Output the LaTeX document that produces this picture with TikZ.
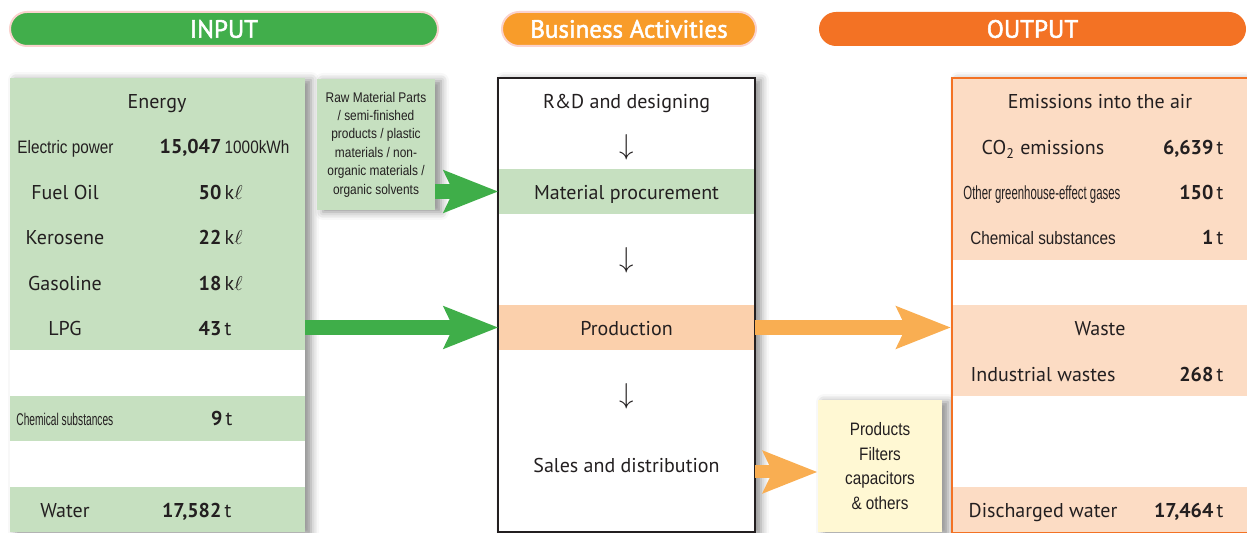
\documentclass[tikz,border=0pt]{standalone}
\usepackage{fontspec}
\setmainfont{PT Sans}
\newfontfamily\pillfont[FakeBold=2]{PT Sans}
\newfontfamily\condfont[FakeStretch=0.85]{Liberation Sans}
\newfontfamily\slimfont[FakeStretch=0.6]{Liberation Sans}
\usetikzlibrary{arrows.meta,positioning,shadows.blur}
\definecolor{ingreen}{RGB}{65,174,75}
\definecolor{bizorange}{RGB}{248,156,42}
\definecolor{outorange}{RGB}{243,114,36}
\definecolor{lightgreen}{RGB}{198,224,192}
\definecolor{peach}{RGB}{252,220,196}
\definecolor{prodpeach}{RGB}{251,208,172}
\definecolor{arrorange}{RGB}{249,174,82}
\definecolor{arrgreen}{RGB}{63,174,73}
\definecolor{cream}{RGB}{255,248,211}
\definecolor{pillrim}{RGB}{250,210,205}
\definecolor{ink}{RGB}{35,31,32}
\newcommand\amount[2]{\llap{\textbf{#1}}\,#2}

\begin{document}
\begin{tikzpicture}
  [x=0.5pt, y=-0.5pt,
   every node/.style={text=ink, font=\fontsize{10}{12}\selectfont},
   pill/.style={rounded corners=8.5pt, minimum height=17pt, inner sep=0pt,
                text=white, font=\pillfont\fontsize{12.5}{14}\selectfont},
   panel/.style={fill=white, inner sep=0pt,
                 blur shadow={shadow xshift=3pt, shadow yshift=-1pt, shadow blur radius=4pt, shadow opacity=45}},
   row/.style={inner sep=0pt},
   txt/.style={inner sep=0pt, text height=10pt, text depth=2pt},
   flow/.style={line width=7.5pt, -{Stealth[length=27pt, width=20.5pt, inset=4.5pt]}}]
  \useasboundingbox (0,0) rectangle (1247,533);

  % headings
  \node[pill, fill=ingreen, draw=pillrim, line width=1pt, minimum width=214pt] (input) at (224,29) {INPUT};
  \node[pill, fill=bizorange, draw=pillrim, line width=1pt, minimum width=127pt] (biztitle) at (629,29) {Business Activities};
  \node[pill, fill=outorange, minimum width=213.5pt] (output) at (1032.5,29) {OUTPUT};

  % input side
  \node[panel, minimum width=147.5pt, minimum height=227pt] (inpanel) at (157.5,305) {};
  \node[row, fill=lightgreen, minimum width=147.5pt, minimum height=136pt] (energy) at (157.5,214) {};
  \node[row, fill=lightgreen, minimum width=147.5pt, minimum height=22.5pt] (chemin) at (157.5,418.5) {};
  \node[row, fill=lightgreen, minimum width=147.5pt, minimum height=22.5pt] (water) at (157.5,509.5) {};
  \node[txt] (energylab) at (157,101) {Energy};
  \node[txt, anchor=west, font=\condfont\fontsize{9}{11}\selectfont] (eleclab) at (17,146) {Electric power};
  \node[txt, anchor=west] (elecval) at (221,146) {\amount{15,047}{{\condfont\fontsize{9}{11}\selectfont 1000kWh}}};
  \foreach \y/\lab/\num/\unit in {192/Fuel Oil/50/k$\ell$, 237/Kerosene/22/k$\ell$,
      283/Gasoline/18/k$\ell$, 328/LPG/43/t, 509/Water/{17,582}/t} {
    \node[txt] (lab\y) at (65,\y) {\lab};
    \node[txt, anchor=west] (val\y) at (221,\y) {\amount{\num}{\unit}};
  };
  \node[txt, anchor=west, font=\slimfont\fontsize{8.5}{10}\selectfont] (chemlab) at (16,418) {Chemical substances};
  \node[txt, anchor=west] (chemval) at (222,418) {\amount{9}{t}};

  % raw materials
  \node[panel, fill=lightgreen, minimum width=59pt, minimum height=65.5pt, align=center,
        font=\condfont\fontsize{7}{9.2}\selectfont] (raw) at (376,144.5)
        {Raw Material Parts\\/ semi-finished\\products / plastic\\materials / non-\\organic materials /\\organic solvents};

  % business activities
  \node[panel, draw=ink, line width=0.75pt, minimum width=128.5pt, minimum height=227pt] (biz) at (626.5,305) {};
  \node[row, fill=lightgreen, minimum width=127.7pt, minimum height=22.5pt] (procband) at (626.5,191.5) {};
  \node[row, fill=prodpeach, minimum width=127.7pt, minimum height=22.5pt] (prodband) at (626.5,327.5) {};
  \node[txt] (rd) at (626.5,101) {R\&D and designing};
  \node[txt] (proc) at (626.5,192) {Material procurement};
  \node[txt] (prod) at (626.5,328) {Production};
  \node[txt] (sales) at (626.5,465) {Sales and distribution};
  \foreach \y/\n in {147/1, 260/2, 396/3}
    \node[inner sep=0pt, font=\fontsize{15}{15}\selectfont] (down\n) at (626.5,\y) {$\downarrow$};

  % products
  \node[panel, fill=cream, minimum width=62pt, minimum height=66pt, align=center,
        font=\condfont\fontsize{9}{12.25}\selectfont] (prodbox) at (880,466)
        {Products\\Filters\\capacitors\\\& others};

  % output side
  \node[panel, draw=outorange, line width=1pt, minimum width=150pt, minimum height=227pt] (outpanel) at (1102,305) {};
  \node[row, fill=peach, minimum width=148.5pt, minimum height=90.5pt] (air) at (1101.5,169.5) {};
  \node[row, fill=peach, minimum width=148.5pt, minimum height=45.5pt] (waste) at (1101.5,350.5) {};
  \node[row, fill=peach, minimum width=148.5pt, minimum height=22.5pt] (drain) at (1101.5,509.5) {};
  \node[txt] (airlab) at (1100,101) {Emissions into the air};
  \node[txt] (co2lab) at (1043,147) {CO\textsubscript{2} emissions};
  \node[txt, anchor=west, font=\slimfont\fontsize{9.5}{11}\selectfont] (ghglab) at (963,192) {Other greenhouse-effect gases};
  \node[txt, font=\condfont\fontsize{9}{11}\selectfont] (chemoutlab) at (1043,237) {Chemical substances};
  \node[txt] (wastelab) at (1100,328) {Waste};
  \node[txt] (indlab) at (1043,374) {Industrial wastes};
  \node[txt] (drainlab) at (1043,510) {Discharged water};
  \foreach \y/\num in {147/{6,639}, 192/150, 237/1, 374/268, 510/{17,464}}
    \node[txt, anchor=west] (out\y) at (1213,\y) {\amount{\num}{t}};

  % flows
  \draw[flow, arrgreen] (raw.east |- procband.west) -- (procband.west);
  \draw[flow, arrgreen] (energy.east |- prodband.west) -- (prodband.west);
  \draw[flow, arrorange] (prodband.east) -- (outpanel.west |- prodband.east);
  \coordinate (salesout) at (755,472);
  \draw[flow, arrorange, line width=6.5pt] (salesout) -- (salesout -| prodbox.west);
\end{tikzpicture}
\end{document}
